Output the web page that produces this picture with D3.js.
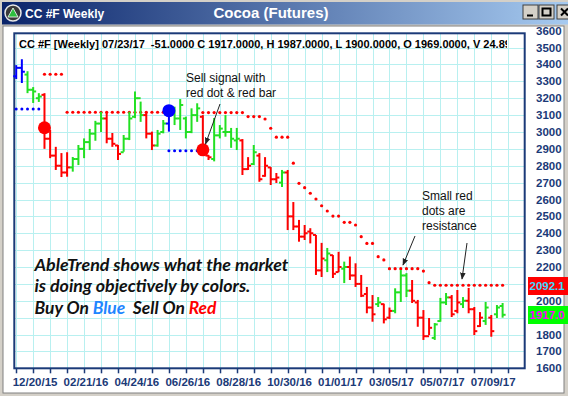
<!DOCTYPE html>
<html>
<head>
<meta charset="utf-8">
<script src="https://cdn.jsdelivr.net/npm/d3@7"></script>
<style>
  body { margin: 0; background: #d4d0c8; }
  svg { display: block; }
</style>
</head>
<body>
<div id="chart"></div>
<script>
"use strict";

// weekly bars, index 0 = week of 12/20/15
var highs = [3396,3431,3360,3266,3230,3230,3012,2912,2875,2880,
             2852,2923,2962,3018,3066,3120,3114,2994,2923,2982,
             3120,3240,3180,3120,3002,3012,3071,3126,3150,3195,
             3091,3140,3170,3100,2864,3083,3041,3100,3024,3024,
             2958,2851,2923,2875,2851,2792,2757,2775,2775,2585,
             2479,2449,2430,2390,2343,2313,2271,2290,2232,2262,
             2222,2153,2082,2034,2022,1983,1960,2074,2182,2164,
             2123,2005,1945,1898,1868,2017,2046,2034,2064,2022,
             2076,1963,1933,1993,1916,1975,1987];
var lows = [3314,3290,3230,3172,3178,2900,2845,2775,2733,2735,
            2765,2804,2845,2893,2948,3000,2933,2912,2834,2883,
            2952,3082,3060,2962,2893,2913,2992,3002,3041,3012,
            2962,2993,3060,2893,2834,2826,2962,2972,2906,2893,
            2745,2775,2804,2705,2735,2686,2698,2674,2419,2419,
            2350,2360,2340,2153,2141,2170,2135,2170,2105,2123,
            2082,2022,1926,1876,1963,1866,1892,1926,1993,2022,
            1987,1846,1768,1797,1768,1876,1975,1904,1926,1957,
            1926,1797,1845,1857,1787,1898,1900];
var opens = [3330,3380,3340,3250,3200,3220,2960,2860,2800,2760,
             2790,2840,2900,2940,2990,3050,3080,2960,2920,2880,
             2960,3090,3200,3100,2990,2920,3000,3050,3110,3080,
             3080,3000,3100,3090,2860,2840,2980,3000,3000,2950,
             2950,2780,2810,2860,2740,2790,2720,2700,2760,2500,
             2440,2380,2410,2390,2180,2240,2270,2170,2190,2200,
             2150,2100,2040,1960,1980,1980,1900,1940,2050,2150,
             2060,1990,1900,1790,1780,1880,1990,2020,1940,1980,
             2000,1950,1850,1880,1900,1920,1969];
var closes = [3380,3357,3250,3240,3210,2960,2860,2800,2760,2790,
              2840,2900,2940,2990,3050,3080,2960,2930,2870,2960,
              3080,3200,3100,2990,2920,2990,3050,3110,3080,3160,
              3000,3100,3140,2900,2850,2980,3020,3000,2960,2960,
              2780,2800,2880,2720,2800,2720,2730,2760,2500,2440,
              2380,2400,2400,2180,2250,2280,2160,2200,2200,2150,
              2100,2030,1960,1920,1990,1890,1940,2050,2150,2060,
              2000,1900,1790,1840,1860,1990,2020,1920,1990,2000,
              1950,1820,1900,1960,1820,1960,1917];
// b = buy signal bar, g = up trend, r = down trend
var trend = ["b","b","g","g","g","r","r","r","r","r",
             "g","g","g","g","g","g","r","r","r","g",
             "g","g","g","r","r","g","g","b","g","g",
             "g","g","g","r","r","g","g","g","g","g",
             "r","r","g","r","r","r","r","g","r","r",
             "r","r","r","r","r","g","r","r","g","r",
             "r","r","r","r","g","r","r","g","g","g",
             "r","r","r","r","g","g","g","r","r","g",
             "r","r","r","g","r","g","g"];

// resistance (small red dots) and support (small blue dots), by bar index
var resistance = [null,null,null,null,null,3342,3342,3342,3342,3117,
                  3117,3117,3117,3117,3117,3117,3117,3117,3117,3117,
                  3117,3117,3117,3117,3117,3117,3117,null,null,null,
                  null,null,null,3115,3115,3115,3115,3115,3115,3115,
                  3115,3091,3091,3091,3077,3022,2969,2969,2969,2815,
                  2696,2670,2637,2603,2563,2532,2502,2502,2465,2465,
                  2449,2380,2340,2340,2261,2242,2190,2190,2190,2190,
                  2190,2190,2176,2107,2092,2092,2092,2092,2092,2092,
                  2092,2092,2092,2092,2092,2092,2092];
var support = [3136,3136,3136,3136,3136,null,null,null,null,null,
               null,null,null,null,null,null,null,null,null,null,
               null,null,null,null,null,null,null,2889,2889,2889,
               2889,2889,2889];

var sellSignals = [{i: 5, v: 3025}, {i: 33, v: 2894}];
var buySignals = [{i: 27, v: 3126}];

var yTicks = [1600,1700,1800,1900,2000,2100,2200,2300,2400,2500,2600,
              2700,2800,2900,3000,3100,3200,3300,3400,3500,3600];
var xLabels = ["12/20/15","02/21/16","04/24/16","06/26/16","08/28/16",
               "10/30/16","01/01/17","03/05/17","05/07/17","07/09/17"];

var lastResistance = "2092.1";
var lastClose = "1917.0";
var header = "CC #F [Weekly] 07/23/17  -51.0000 C 1917.0000, H 1987.0000, L 1900.0000, O 1969.0000, V 24.8934";

var W = 568, H = 396;
var frame = {left: 14.3, right: 524.7, top: 33.3, bottom: 368.3};

var x = d3.scaleLinear().domain([0, 86]).range([16.2, 502.6]);
var y = d3.scaleLinear().domain([1600, 3600]).range([368.3, 30.7]);

var colors = {b: "#0000ff", g: "#22e022", r: "#ff0000"};
var navy = "#1b3a78";
var armFont = "'Liberation Sans', Arial, sans-serif";

var svg = d3.select("#chart").append("svg")
    .attr("width", W).attr("height", H);

var defs = svg.append("defs");
var grad = defs.append("linearGradient").attr("id", "titlebar")
    .attr("x1", 0).attr("x2", 1).attr("y1", 0).attr("y2", 0);
grad.append("stop").attr("offset", 0).attr("stop-color", "#0a246a");
grad.append("stop").attr("offset", 1).attr("stop-color", "#a6caf0");

defs.append("clipPath").attr("id", "hdrclip")
  .append("rect").attr("x", 14).attr("y", 30).attr("width", 493).attr("height", 25);

defs.append("marker").attr("id", "arrow")
    .attr("viewBox", "0 -5 10 10").attr("refX", 9).attr("refY", 0)
    .attr("markerWidth", 7).attr("markerHeight", 7).attr("orient", "auto")
  .append("path").attr("d", "M0,-4L10,0L0,4Z").attr("fill", "#222");

// window chrome
svg.append("rect").attr("width", W).attr("height", H).attr("fill", "#d4d0c8");
svg.append("rect").attr("x", 2).attr("y", 2).attr("width", W - 2).attr("height", 22.5)
    .attr("fill", "url(#titlebar)");
svg.append("rect").attr("x", 3).attr("y", 26).attr("width", 561).attr("height", 367)
    .attr("fill", "#fff").attr("stroke", "#808080").attr("stroke-width", 1);

// icon
var icon = svg.append("g").attr("transform", "translate(13,13)");
icon.append("circle").attr("r", 8).attr("fill", "#3a3a3a").attr("stroke", "#e8e8e8").attr("stroke-width", 1.5);
icon.append("path").attr("d", "M0,-5L5,4L-5,4Z").attr("fill", "#2fbf3f").attr("stroke", "#fff").attr("stroke-width", 0.8);

svg.append("text").attr("x", 25).attr("y", 17.5)
    .attr("font-family", armFont).attr("font-weight", "bold").attr("font-size", 12)
    .attr("fill", "#fff").text("CC #F Weekly");
svg.append("text").attr("x", 271).attr("y", 18).attr("text-anchor", "middle")
    .attr("font-family", armFont).attr("font-weight", "bold").attr("font-size", 15)
    .attr("fill", "#fff").text("Cocoa (Futures)");

// caption buttons
var btns = [{x: 523, g: "min"}, {x: 539, g: "max"}, {x: 557, g: "close"}];
var btn = svg.selectAll("g.btn").data(btns).enter().append("g")
    .attr("class", "btn").attr("transform", function(d) { return "translate(" + d.x + ",5)"; });
btn.append("rect").attr("width", 15).attr("height", 14).attr("fill", "#d4d0c8")
    .attr("stroke", "#404040").attr("stroke-width", 1);
btn.append("path").attr("fill", "none").attr("stroke", "#000").attr("stroke-width", 2)
    .attr("d", function(d) {
      if (d.g == "min") return "M4,10.5H10";
      if (d.g == "max") return "M3.5,3.5H11.5V10.5H3.5Z";
      return "M4,3.5L11,10.5M11,3.5L4,10.5";
    });

// grid
var tickIdx = d3.range(0, 88, 3);
var grid = svg.append("g").attr("class", "grid").attr("stroke", "#b8f0f0").attr("stroke-width", 1);
grid.selectAll("line.v").data(tickIdx).enter().append("line").attr("class", "v")
    .attr("x1", function(d) { return Math.round(x(d)) + 0.5; })
    .attr("x2", function(d) { return Math.round(x(d)) + 0.5; })
    .attr("y1", frame.top).attr("y2", frame.bottom);
grid.selectAll("line.h").data(yTicks.filter(function(v) { return y(v) > frame.top && y(v) < frame.bottom; }))
    .enter().append("line").attr("class", "h")
    .attr("x1", frame.left).attr("x2", frame.right)
    .attr("y1", function(d) { return Math.round(y(d)) + 0.5; })
    .attr("y2", function(d) { return Math.round(y(d)) + 0.5; });

// frame
svg.append("rect").attr("x", frame.left).attr("y", frame.top)
    .attr("width", frame.right - frame.left).attr("height", frame.bottom - frame.top)
    .attr("fill", "none").attr("stroke", navy).attr("stroke-width", 2);

// header line
svg.append("text").attr("x", 19).attr("y", 47.5).attr("clip-path", "url(#hdrclip)")
    .attr("font-family", armFont).attr("font-weight", "bold").attr("font-size", 11)
    .attr("fill", "#000").attr("xml:space", "preserve").text(header);

// y axis labels (2100 and 1900 sit under the price boxes)
var hidden = [2100, 1900];
svg.append("g").selectAll("text").data(yTicks.filter(function(v) { return hidden.indexOf(v) < 0; }))
  .enter().append("text")
    .attr("x", 536).attr("y", function(d) { return y(d) + 4; })
    .attr("font-family", armFont).attr("font-weight", "bold").attr("font-size", 11.5)
    .attr("fill", navy).text(function(d) { return d; });

// x axis ticks and labels
svg.append("g").selectAll("line").data(tickIdx).enter().append("line")
    .attr("x1", function(d) { return Math.round(x(d)) + 0.5; })
    .attr("x2", function(d) { return Math.round(x(d)) + 0.5; })
    .attr("y1", frame.bottom).attr("y2", frame.bottom + 5)
    .attr("stroke", navy).attr("stroke-width", 1.5);
svg.append("g").selectAll("text").data(xLabels).enter().append("text")
    .attr("x", function(d, i) { return x(i * 9) - 3.5; }).attr("y", 385.5)
    .attr("font-family", armFont).attr("font-weight", "bold").attr("font-size", 11.5)
    .attr("fill", navy).text(function(d) { return d; });

// small dots
var plot = svg.append("g").attr("class", "plot");
plot.selectAll("circle.res").data(resistance.map(function(v, i) { return {i: i, v: v}; })
    .filter(function(d) { return d.v != null; }))
  .enter().append("circle").attr("class", "res")
    .attr("cx", function(d) { return x(d.i); }).attr("cy", function(d) { return y(d.v); })
    .attr("r", 1.6).attr("fill", "#ff0000");
plot.selectAll("circle.sup").data(support.map(function(v, i) { return {i: i, v: v}; })
    .filter(function(d) { return d.v != null; }))
  .enter().append("circle").attr("class", "sup")
    .attr("cx", function(d) { return x(d.i); }).attr("cy", function(d) { return y(d.v); })
    .attr("r", 1.5).attr("fill", "#0000ff");

// OHLC bars
var bars = highs.map(function(h, i) {
  return {i: i, h: h, l: lows[i], o: opens[i], c: closes[i], t: trend[i]};
});
var bar = plot.selectAll("g.bar").data(bars).enter().append("g").attr("class", "bar")
    .attr("stroke", function(d) { return colors[d.t]; }).attr("stroke-width", 2);
bar.append("line")
    .attr("x1", function(d) { return x(d.i); }).attr("x2", function(d) { return x(d.i); })
    .attr("y1", function(d) { return y(d.h); }).attr("y2", function(d) { return y(d.l); });
bar.append("line")
    .attr("x1", function(d) { return x(d.i) - 3; }).attr("x2", function(d) { return x(d.i); })
    .attr("y1", function(d) { return y(d.o); }).attr("y2", function(d) { return y(d.o); });
bar.append("line")
    .attr("x1", function(d) { return x(d.i); }).attr("x2", function(d) { return x(d.i) + 3; })
    .attr("y1", function(d) { return y(d.c); }).attr("y2", function(d) { return y(d.c); });

// signal dots
plot.selectAll("circle.sell").data(sellSignals).enter().append("circle")
    .attr("cx", function(d) { return x(d.i); }).attr("cy", function(d) { return y(d.v); })
    .attr("r", 6.5).attr("fill", "#ff0000");
plot.selectAll("circle.buy").data(buySignals).enter().append("circle")
    .attr("cx", function(d) { return x(d.i); }).attr("cy", function(d) { return y(d.v); })
    .attr("r", 6.5).attr("fill", "#0000ff");

// price boxes on the right
var boxes = [{v: lastResistance, y: 277, fill: "#ff0000", color: "#40d8ff"},
             {v: lastClose, y: 306, fill: "#00ff00", color: "#ff00ff"}];
var box = svg.selectAll("g.pbox").data(boxes).enter().append("g").attr("class", "pbox");
box.append("rect").attr("x", 528).attr("y", function(d) { return d.y; })
    .attr("width", 40).attr("height", 18).attr("fill", function(d) { return d.fill; });
box.append("text").attr("x", 529.5).attr("y", function(d) { return d.y + 13; })
    .attr("font-family", armFont).attr("font-weight", "bold").attr("font-size", 11.5)
    .attr("fill", function(d) { return d.color; }).text(function(d) { return d.v; });

// annotations
var notes = svg.append("g").attr("font-family", armFont).attr("font-size", 12).attr("fill", "#111");
[["Sell signal with", 186, 81.5], ["red dot & red bar", 186, 96.5],
 ["Small red", 422, 200], ["dots are", 422, 215], ["resistance", 422, 230]]
  .forEach(function(t) {
    notes.append("text").attr("x", t[1]).attr("y", t[2]).text(t[0]);
  });
[[220, 104, 205.5, 144], [415, 236, 403, 265], [467, 243, 462, 279]].forEach(function(a) {
  svg.append("line").attr("x1", a[0]).attr("y1", a[1]).attr("x2", a[2]).attr("y2", a[3])
      .attr("stroke", "#222").attr("stroke-width", 1).attr("marker-end", "url(#arrow)");
});

// big caption
var capFont = "Lato, 'Open Sans', sans-serif";
var cap = svg.append("g").attr("font-family", capFont).attr("font-weight", "bold")
    .attr("font-style", "italic").attr("font-size", 16).attr("fill", "#111");
var cl = [{y: 270.5, w: 254, parts: [["AbleTrend shows what the market", "#111"]]},
          {y: 292, w: 216, parts: [["is doing objectively by colors.", "#111"]]},
          {y: 314, w: 182, parts: [["Buy On ", "#111"], ["Blue", "#1f86ff"], ["  Sell On ", "#111"], ["Red", "#ff0000"]]}];
cl.forEach(function(line) {
  var t = cap.append("text").attr("x", 34.5).attr("y", line.y).attr("xml:space", "preserve");
  line.parts.forEach(function(p) { t.append("tspan").attr("fill", p[1]).text(p[0]); });
  var len = t.node().getComputedTextLength();
  t.attr("font-size", 16 * line.w / len);
});
</script>
</body>
</html>
